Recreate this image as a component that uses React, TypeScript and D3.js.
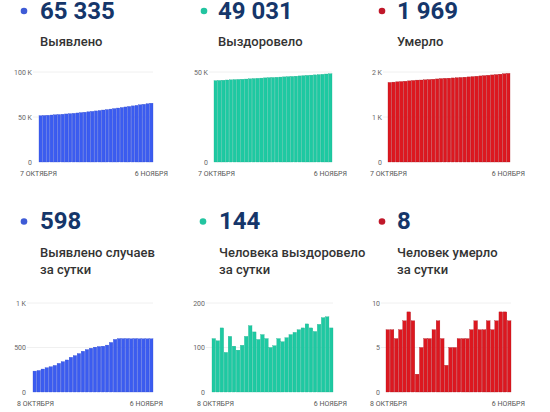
import React from "react";
import * as d3 from "d3";

const cumDetected = [51480, 51715, 51957, 52215, 52488, 52772, 53071, 53393, 53734, 54094, 54484, 54893, 55325, 55783, 56260, 56752, 57256, 57767, 58282, 58809, 59366, 59957, 60555, 61153, 61751, 62349, 62947, 63545, 64143, 64741, 65335];
const cumRecovered = [45190, 45310, 45425, 45569, 45658, 45783, 45886, 45980, 46085, 46210, 46359, 46494, 46612, 46741, 46861, 46961, 47065, 47185, 47298, 47420, 47549, 47683, 47823, 47967, 48120, 48264, 48400, 48552, 48719, 48888, 49031];
const cumDeaths = [1768, 1775, 1782, 1788, 1795, 1803, 1812, 1820, 1822, 1827, 1833, 1839, 1846, 1854, 1860, 1863, 1868, 1873, 1879, 1885, 1891, 1898, 1906, 1913, 1920, 1928, 1935, 1943, 1952, 1961, 1969];
const dailyDetected = [235, 242, 258, 273, 284, 299, 322, 341, 360, 390, 409, 432, 458, 477, 492, 504, 511, 515, 527, 557, 591, 600, 600, 600, 598, 600, 598, 598, 598, 598];
const dailyRecovered = [120, 115, 144, 89, 125, 103, 94, 105, 125, 149, 135, 118, 129, 120, 100, 104, 120, 113, 122, 129, 134, 140, 144, 153, 144, 136, 152, 167, 169, 144];
const dailyDeaths = [7, 7, 6, 7, 8, 9, 8, 2, 5, 6, 6, 7, 8, 6, 3, 5, 5, 6, 6, 6, 7, 8, 7, 7, 8, 7, 8, 9, 9, 8];

const headlines = ["65 335", "49 031", "1 969", "598", "144", "8"];
const titles = [["Выявлено"], ["Выздоровело"], ["Умерло"], ["Выявлено случаев", "за сутки"], ["Человека выздоровело", "за сутки"], ["Человек умерло", "за сутки"]];
const startLabelsTop = "7 ОКТЯБРЯ";
const startLabelsBottom = "8 ОКТЯБРЯ";
const endLabel = "6 НОЯБРЯ";
const ticksA = [0, 50000, 100000];
const ticksB = [0, 50000];
const ticksC = [0, 1000, 2000];
const ticksD = [0, 500, 1000];
const ticksE = [0, 100, 200];
const ticksF = [0, 5, 10];
const tickLabelsA = ["0", "50 K", "100 K"];
const tickLabelsB = ["0", "50 K"];
const tickLabelsC = ["0", "1 K", "2 K"];
const tickLabelsD = ["0", "500", "1 K"];
const tickLabelsE = ["0", "100", "200"];
const tickLabelsF = ["0", "5", "10"];

const BLUE = "#3b5cf0";
const TEAL = "#1ec9a2";
const RED = "#dc1820";
const NAVY = "#15366a";
const FONT = "Roboto, 'Noto Sans', sans-serif";

type Panel = {
  data: number[];
  ticks: number[];
  tickLabels: string[];
  color: string;
  stroke: string;
  dot: string;
  headline: string;
  title: string[];
  startLabel: string;
  px0: number;
  px1: number;
  labelEnd: number;
  top: number;
  base: number;
  xlStart: number;
  xlEnd: number;
  dotX: number;
  textX: number;
  numBase: number;
  titleBase: number;
};

const panels: Panel[] = [
  { data: cumDetected, ticks: ticksA, tickLabels: tickLabelsA, color: BLUE, stroke: "#2f4bd0", dot: "#3e5bd6", headline: headlines[0], title: titles[0], startLabel: startLabelsTop, px0: 39, px1: 153, labelEnd: 32, top: 72, base: 162, xlStart: 20, xlEnd: 168, dotX: 24, textX: 40, numBase: 18.5, titleBase: 46 },
  { data: cumRecovered, ticks: ticksB, tickLabels: tickLabelsB, color: TEAL, stroke: "#17b08c", dot: "#22c4a0", headline: headlines[1], title: titles[1], startLabel: startLabelsTop, px0: 214, px1: 332, labelEnd: 208, top: 72, base: 162, xlStart: 198, xlEnd: 347, dotX: 204, textX: 218, numBase: 18.5, titleBase: 46 },
  { data: cumDeaths, ticks: ticksC, tickLabels: tickLabelsC, color: RED, stroke: "#a8101a", dot: "#c0182a", headline: headlines[2], title: titles[2], startLabel: startLabelsTop, px0: 388, px1: 510, labelEnd: 382, top: 72, base: 162, xlStart: 370, xlEnd: 525, dotX: 382, textX: 397, numBase: 18.5, titleBase: 46 },
  { data: dailyDetected, ticks: ticksD, tickLabels: tickLabelsD, color: BLUE, stroke: "#2f4bd0", dot: "#3e5bd6", headline: headlines[3], title: titles[3], startLabel: startLabelsBottom, px0: 33, px1: 153, labelEnd: 26, top: 303, base: 392, xlStart: 17, xlEnd: 163, dotX: 24, textX: 40, numBase: 229, titleBase: 257 },
  { data: dailyRecovered, ticks: ticksE, tickLabels: tickLabelsE, color: TEAL, stroke: "#17b08c", dot: "#22c4a0", headline: headlines[4], title: titles[4], startLabel: startLabelsBottom, px0: 212, px1: 333, labelEnd: 205, top: 303, base: 392, xlStart: 197, xlEnd: 347, dotX: 203, textX: 219, numBase: 229, titleBase: 257 },
  { data: dailyDeaths, ticks: ticksF, tickLabels: tickLabelsF, color: RED, stroke: "#a8101a", dot: "#c0182a", headline: headlines[5], title: titles[5], startLabel: startLabelsBottom, px0: 386, px1: 511, labelEnd: 380, top: 303, base: 392, xlStart: 370, xlEnd: 525, dotX: 382, textX: 397, numBase: 229, titleBase: 257 },
];

function PanelView({ p }: { p: Panel }) {
  const x = d3.scaleBand<number>().domain(d3.range(p.data.length)).range([p.px0, p.px1]).paddingInner(0.12).paddingOuter(0);
  const maxTick = p.ticks[p.ticks.length - 1];
  const y = d3.scaleLinear().domain([0, maxTick]).range([p.base, p.top]);
  return (
    <g>
      <circle cx={p.dotX} cy={p.numBase - 7.5} r={3.3} fill={p.dot} />
      <text x={p.textX} y={p.numBase} fontFamily={FONT} fontWeight={700} fontSize={24} fill={NAVY}>{p.headline}</text>
      {p.title.map((t, i) => (
        <text key={i} x={p.textX} y={p.titleBase + i * 17} fontFamily={FONT} fontWeight={500} fontSize={13} fill="#333">{t}</text>
      ))}
      {p.ticks.map((t, i) => (
        <g key={i}>
          {t !== 0 && <line x1={p.labelEnd + 1} x2={p.px1} y1={y(t)} y2={y(t)} stroke="#ececec" strokeWidth={0.8} />}
          <text x={p.labelEnd} y={y(t) + 2.5} textAnchor="end" fontFamily={FONT} fontSize={7} fill="#666">{p.tickLabels[i]}</text>
        </g>
      ))}
      {p.data.map((v, i) => (
        <rect key={i} x={x(i)} y={y(v)} width={x.bandwidth()} height={p.base - y(v)} fill={p.color} stroke={p.stroke} strokeWidth={0.3} />
      ))}
      <text x={p.xlStart} y={p.base + 14} fontFamily={FONT} fontSize={7} fill="#555">{p.startLabel}</text>
      <text x={p.xlEnd} y={p.base + 14} textAnchor="end" fontFamily={FONT} fontSize={7} fill="#555">{endLabel}</text>
    </g>
  );
}

export default function App() {
  return (
    <div style={{ position: "absolute", left: 0, top: 0 }}>
      <svg width={550} height={412} style={{ display: "block", background: "#fff" }}>
        {panels.map((p, i) => (
          <PanelView key={i} p={p} />
        ))}
      </svg>
    </div>
  );
}
